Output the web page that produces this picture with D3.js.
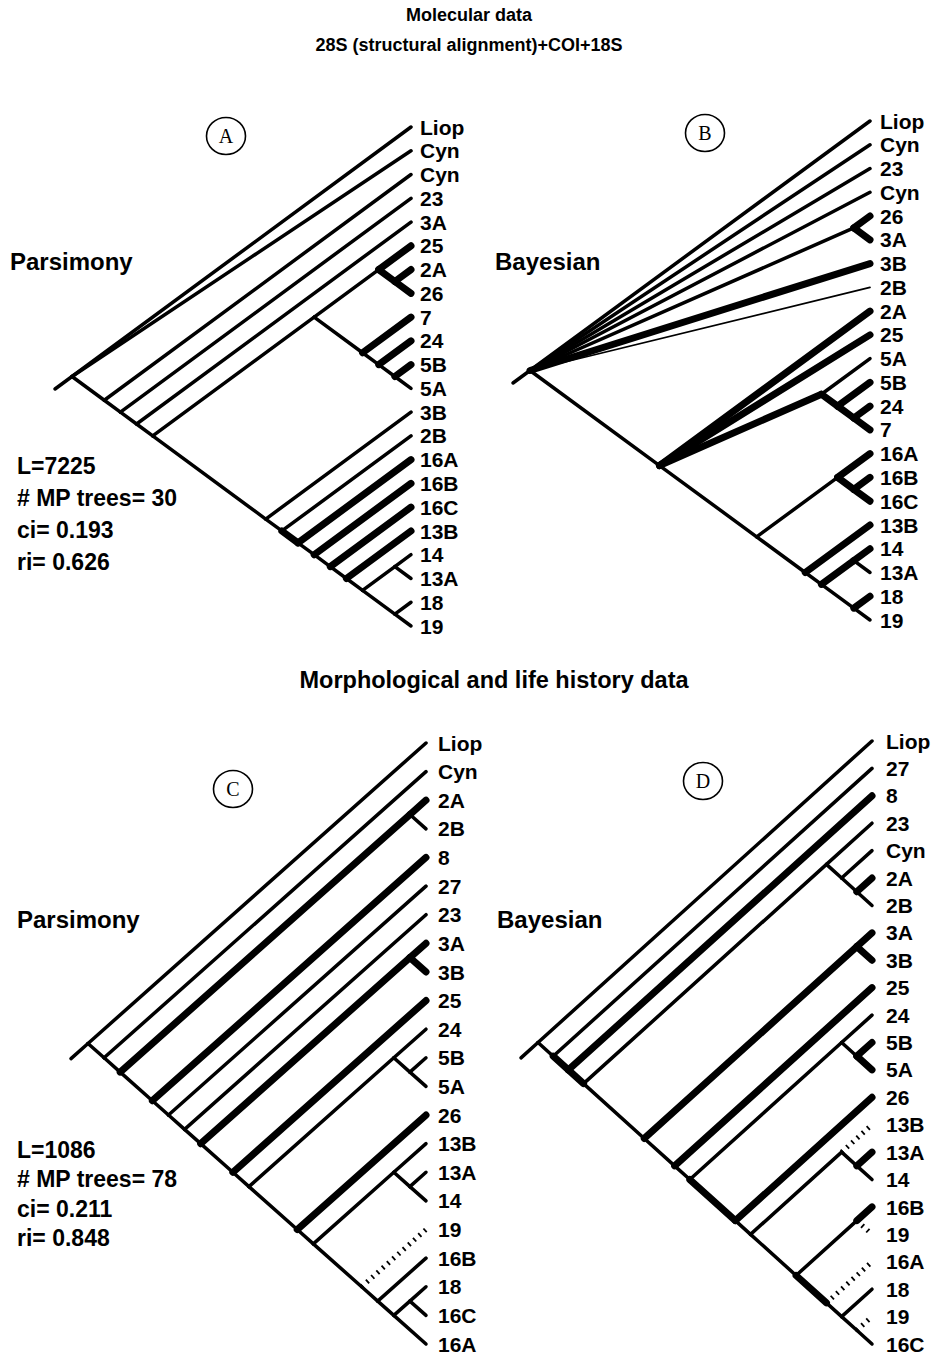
<!DOCTYPE html>
<html>
<head>
<meta charset="utf-8">
<script src="https://cdn.jsdelivr.net/npm/d3@7"></script>
<style>
  body { margin: 0; background: #fff; }
  text { font-family: "Liberation Sans", Arial, Helvetica, sans-serif; font-weight: bold; fill: #000; }
</style>
</head>
<body>
<div id="chart"></div>
<script>

// ---------- data ----------
var titleLines = ['Molecular data', '28S (structural alignment)+COI+18S'];
var midTitle = 'Morphological and life history data';
var panelLetters = ['A', 'B', 'C', 'D'];
var methodNames = ['Parsimony', 'Bayesian', 'Parsimony', 'Bayesian'];
var statsMolecular = ['L=7225', '# MP trees= 30', 'ci= 0.193', 'ri= 0.626'];
var statsMorph = ['L=1086', '# MP trees= 78', 'ci= 0.211', 'ri= 0.848'];

// topologies in newick; ':k' thick branch, ':t' thin, ':h' hatched (weak) branch
var treeA = "(Liop,Cyn,(Cyn,(23,(3A,(((25:k,(2A:k,26:k):k),(7:k,(24:k,(5B:k,5A)))),(3B,(2B,(16A:k,(16B:k,(16C:k,(13B:k,((14,13A),(18,19)))))):k))))))";
var treeB = "(Liop,Cyn,23,Cyn,(26:k,3A:k),3B:k,2B:t,(2A:k,25:k,(5A,(5B:k,(24:k,7:k):k):k):k,((16A:k,(16B:k,16C:k):k),(13B:k,((14:k,13A):k,(18:k,19))))))";
var treeC = "(Liop,(Cyn,((2A:k,2B):k,(8:k,(27,(23,((3A:k,3B:k):k,(25:k,((24,(5B,5A)),(26:k,((13B,(13A,14)),(19:h,(16B,((18,16C),16A))))))))))))))";
var treeD = "(Liop,(27,(8:k,((23,(Cyn,(2A:k,2B))),((3A:k,3B:k):k,(25:k,((24,(5B:k,5A:k)),(26:k,((13B:h,(13A:k,14)),((16B:k,19:h),(16A:h,(18,(19:h,16C))):k))):k)))):k):k))";


// ---------- setup ----------
var attrs = {
    svgWidth: 934,
    svgHeight: 1358,
    widths: { n: 3.5, k: 7, t: 1.7, h: 5 },
    leafFont: 21
};

var svg = d3.select('#chart')
    .append('svg')
    .attr('width', attrs.svgWidth)
    .attr('height', attrs.svgHeight);

// tiny newick reader
function parseNewick(s) {
    var i = 0;
    function node() {
        var nd = {};
        if (s[i] === '(') {
            i++;
            nd.children = [node()];
            while (s[i] === ',') { i++; nd.children.push(node()); }
            i++;
        } else {
            var st = i;
            while (i < s.length && ',():'.indexOf(s[i]) < 0) i++;
            nd.name = s.slice(st, i);
        }
        if (s[i] === ':') { nd.w = s[i + 1]; i += 2; }
        return nd;
    }
    return node();
}

// slanted cladogram: node sits where the diagonals from its first and last leaf meet
function drawTree(newick, box) {
    var root = d3.hierarchy(parseNewick(newick));
    var leaves = root.leaves();
    var n = leaves.length;

    leaves.forEach(function (d, k) { d.lo = k; d.hi = k; });
    root.eachAfter(function (d) {
        if (d.children) {
            d.lo = d.children[0].lo;
            d.hi = d.children[d.children.length - 1].hi;
        }
    });

    var y = d3.scaleLinear().domain([0, n - 1]).range([box.top, box.bottom]);
    var x = d3.scaleLinear().domain([0, n - 1]).range([box.tip, box.root]);

    root.each(function (d) {
        d.px = x(d.hi - d.lo);
        d.py = y((d.lo + d.hi) / 2);
    });

    var g = svg.append('g');
    var slope = (box.bottom - box.top) / 2 / (box.tip - box.root);

    // root stub
    g.append('line')
        .attr('x1', root.px - 17).attr('y1', root.py + 17 * slope)
        .attr('x2', root.px).attr('y2', root.py)
        .attr('stroke', '#000').attr('stroke-width', attrs.widths.n)
        .attr('stroke-linecap', 'round');

    var links = root.links();
    // heavy ones last so they sit on top
    var order = { h: 0, t: 1, n: 2, k: 3 };
    links.sort(function (a, b) {
        return order[a.target.data.w || 'n'] - order[b.target.data.w || 'n'];
    });

    g.selectAll('line.branch')
        .data(links)
        .enter()
        .append('line')
        .attr('class', 'branch')
        .attr('x1', d => d.source.px)
        .attr('y1', d => d.source.py)
        .attr('x2', d => d.target.px)
        .attr('y2', d => d.target.py)
        .attr('stroke', '#000')
        .attr('stroke-width', d => attrs.widths[d.target.data.w || 'n'])
        .attr('stroke-linecap', d => d.target.data.w === 'h' ? 'butt' : 'round')
        .attr('stroke-dasharray', d => d.target.data.w === 'h' ? '1.8,5.2' : null);

    g.selectAll('text.leaf')
        .data(leaves)
        .enter()
        .append('text')
        .attr('class', 'leaf')
        .attr('x', box.label)
        .attr('y', d => d.py)
        .attr('dy', '0.36em')
        .attr('font-size', attrs.leafFont)
        .text(d => d.data.name);
}

// ---------- headings ----------
svg.selectAll('text.title')
    .data(titleLines)
    .enter()
    .append('text')
    .attr('class', 'title')
    .attr('x', 469)
    .attr('y', (d, i) => 15 + i * 30)
    .attr('dy', '0.35em')
    .attr('text-anchor', 'middle')
    .attr('font-size', 18)
    .text(d => d);

svg.append('text')
    .attr('x', 494)
    .attr('y', 680)
    .attr('dy', '0.35em')
    .attr('text-anchor', 'middle')
    .attr('font-size', 23.5)
    .text(midTitle);

// ---------- panels ----------
var panels = [
    { tree: treeA, box: { tip: 411, root: 72, top: 127, bottom: 626, label: 420 }, circle: [226, 136], method: [10, 262] },
    { tree: treeB, box: { tip: 870, root: 530, top: 121, bottom: 620, label: 880 }, circle: [705, 133], method: [495, 262] },
    { tree: treeC, box: { tip: 426, root: 88, top: 743, bottom: 1344, label: 438 }, circle: [233, 789], method: [17, 920] },
    { tree: treeD, box: { tip: 872, root: 538, top: 741, bottom: 1344, label: 886 }, circle: [703, 781], method: [497, 920] }
];

panels.forEach(function (p, i) {
    drawTree(p.tree, p.box);

    svg.append('ellipse')
        .attr('cx', p.circle[0]).attr('cy', p.circle[1])
        .attr('rx', 19.5).attr('ry', 18.5)
        .attr('fill', 'none').attr('stroke', '#000').attr('stroke-width', 1.6);

    svg.append('text')
        .attr('x', p.circle[0]).attr('y', p.circle[1])
        .attr('dy', '0.35em')
        .attr('text-anchor', 'middle')
        .style('font-family', '"Liberation Serif", "Times New Roman", serif')
        .style('font-weight', 'normal')
        .attr('font-size', 20)
        .text(panelLetters[i]);

    svg.append('text')
        .attr('x', p.method[0]).attr('y', p.method[1])
        .attr('dy', '0.35em')
        .attr('font-size', 24)
        .text(methodNames[i]);
});

// ---------- parsimony stats ----------
function drawStats(lines, x0, y0, y1) {
    var ys = d3.scalePoint().domain(d3.range(lines.length)).range([y0, y1]);
    svg.selectAll(null)
        .data(lines)
        .enter()
        .append('text')
        .attr('x', x0)
        .attr('y', (d, i) => ys(i))
        .attr('dy', '0.35em')
        .attr('font-size', 23)
        .text(d => d);
}

drawStats(statsMolecular, 17, 466, 562);
drawStats(statsMorph, 17, 1150, 1238);

</script>
</body>
</html>
